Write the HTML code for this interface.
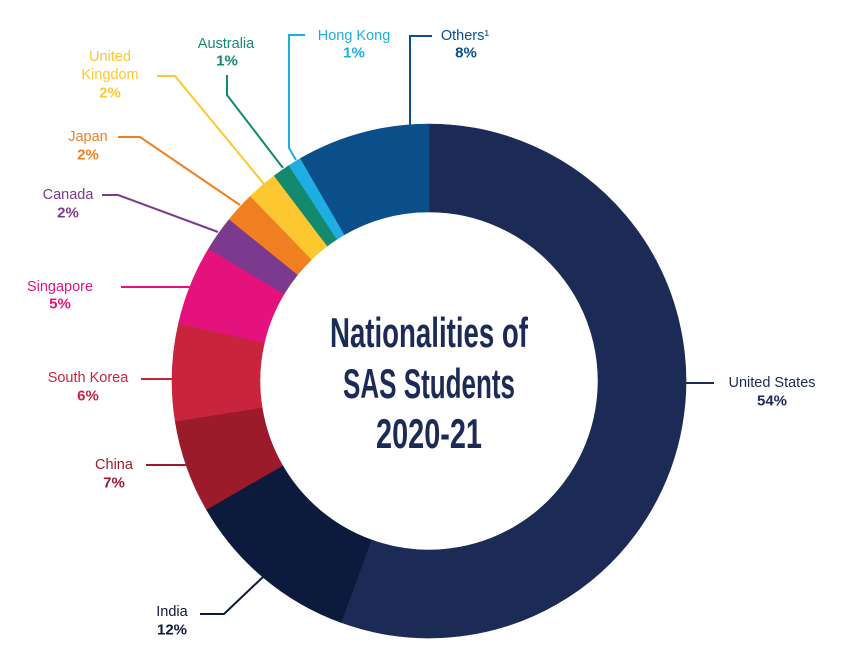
<!DOCTYPE html>
<html><head><meta charset="utf-8"><style>
html,body{margin:0;padding:0;background:#fff;}
svg{display:block;font-family:"Liberation Sans",sans-serif;}
.n{font-size:14.5px;} .p{font-size:15px;font-weight:bold;}
</style></head><body>
<svg width="854" height="663" viewBox="0 0 854 663" xmlns="http://www.w3.org/2000/svg">
<g stroke-width="0.6">
<path fill="#1c2b55" stroke="#1c2b55" d="M429,124 A257,257 0 1 1 341.1,622.5 L371.2,539.8 A169,169 0 1 0 429,212 Z"/>
<path fill="#0b1a3d" stroke="#0b1a3d" d="M341.1,622.5 A257,257 0 0 1 206.4,509.5 L282.6,465.5 A169,169 0 0 0 371.2,539.8 Z"/>
<path fill="#9b1b2a" stroke="#9b1b2a" d="M206.4,509.5 A257,257 0 0 1 175.2,421.2 L262.1,407.4 A169,169 0 0 0 282.6,465.5 Z"/>
<path fill="#c8243e" stroke="#c8243e" d="M175.2,421.2 A257,257 0 0 1 178.6,323.2 L264.3,343.0 A169,169 0 0 0 262.1,407.4 Z"/>
<path fill="#e5127d" stroke="#e5127d" d="M178.6,323.2 A257,257 0 0 1 208.7,248.6 L284.1,294.0 A169,169 0 0 0 264.3,343.0 Z"/>
<path fill="#7b3a8e" stroke="#7b3a8e" d="M208.7,248.6 A257,257 0 0 1 229.3,219.3 L297.7,274.6 A169,169 0 0 0 284.1,294.0 Z"/>
<path fill="#f07f22" stroke="#f07f22" d="M229.3,219.3 A257,257 0 0 1 250.5,196.1 L311.6,259.4 A169,169 0 0 0 297.7,274.6 Z"/>
<path fill="#fdc82f" stroke="#fdc82f" d="M250.5,196.1 A257,257 0 0 1 274.3,175.8 L327.3,246.0 A169,169 0 0 0 311.6,259.4 Z"/>
<path fill="#138a6e" stroke="#138a6e" d="M274.3,175.8 A257,257 0 0 1 289.0,165.5 L337.0,239.3 A169,169 0 0 0 327.3,246.0 Z"/>
<path fill="#1eaee2" stroke="#1eaee2" d="M289.0,165.5 A257,257 0 0 1 300.5,158.4 L344.5,234.6 A169,169 0 0 0 337.0,239.3 Z"/>
<path fill="#0a4f8a" stroke="#0a4f8a" d="M300.5,158.4 A257,257 0 0 1 429,124 L429,212 A169,169 0 0 0 344.5,234.6 Z"/>
</g>
<g fill="none" stroke-width="2">
<polyline points="410,125 410,36 432,36" stroke="#0a4f8a"/>
<polyline points="296,160 289,148 289,35 305,35" stroke="#1eaee2"/>
<polyline points="283,168 227,95 227,75" stroke="#138a6e"/>
<polyline points="264,184 175,76 157,76" stroke="#fdc82f"/>
<polyline points="240,205 140,137 118,137" stroke="#f07f22"/>
<polyline points="218,232 118,195 102,195" stroke="#7b3a8e"/>
<polyline points="190,287 121,287" stroke="#e5127d"/>
<polyline points="173,379 141,379" stroke="#c8243e"/>
<polyline points="187,465 146,465" stroke="#9b1b2a"/>
<polyline points="264,576 224,614 200,614" stroke="#0b1a3d"/>
<polyline points="686,383 714,383" stroke="#1c2b55"/>
</g>
<g text-anchor="middle" dominant-baseline="central">
<text x="465" y="36" class="n" fill="#0a4f8a">Others¹</text><text x="466" y="53" class="p" fill="#0a4f8a">8%</text>
<text x="354" y="36" class="n" fill="#1eaee2">Hong Kong</text><text x="354" y="53" class="p" fill="#1eaee2">1%</text>
<text x="226" y="44" class="n" fill="#138a6e">Australia</text><text x="227" y="61" class="p" fill="#138a6e">1%</text>
<text x="110" y="57" class="n" fill="#fdc82f">United</text><text x="110" y="75" class="n" fill="#fdc82f">Kingdom</text><text x="110" y="93" class="p" fill="#fdc82f">2%</text>
<text x="88" y="137" class="n" fill="#f07f22">Japan</text><text x="88" y="155" class="p" fill="#f07f22">2%</text>
<text x="68" y="195" class="n" fill="#7b3a8e">Canada</text><text x="68" y="213" class="p" fill="#7b3a8e">2%</text>
<text x="60" y="287" class="n" fill="#e5127d">Singapore</text><text x="60" y="304" class="p" fill="#e5127d">5%</text>
<text x="88" y="378" class="n" fill="#c8243e">South Korea</text><text x="88" y="396" class="p" fill="#c8243e">6%</text>
<text x="114" y="465" class="n" fill="#9b1b2a">China</text><text x="114" y="483" class="p" fill="#9b1b2a">7%</text>
<text x="172" y="612" class="n" fill="#0b1a3d">India</text><text x="172" y="630" class="p" fill="#0b1a3d">12%</text>
<text x="772" y="383" class="n" fill="#1c2b55">United States</text><text x="772" y="401" class="p" fill="#1c2b55">54%</text>
</g>
<g fill="#1c2b55" font-family="'Liberation Sans Narrow','Liberation Sans',sans-serif" font-weight="bold" font-size="42" text-anchor="middle">
<text x="429" y="347" textLength="198" lengthAdjust="spacingAndGlyphs">Nationalities of</text>
<text x="429" y="398" textLength="172" lengthAdjust="spacingAndGlyphs">SAS Students</text>
<text x="429" y="448" textLength="106" lengthAdjust="spacingAndGlyphs">2020-21</text>
</g>
</svg>
</body></html>
